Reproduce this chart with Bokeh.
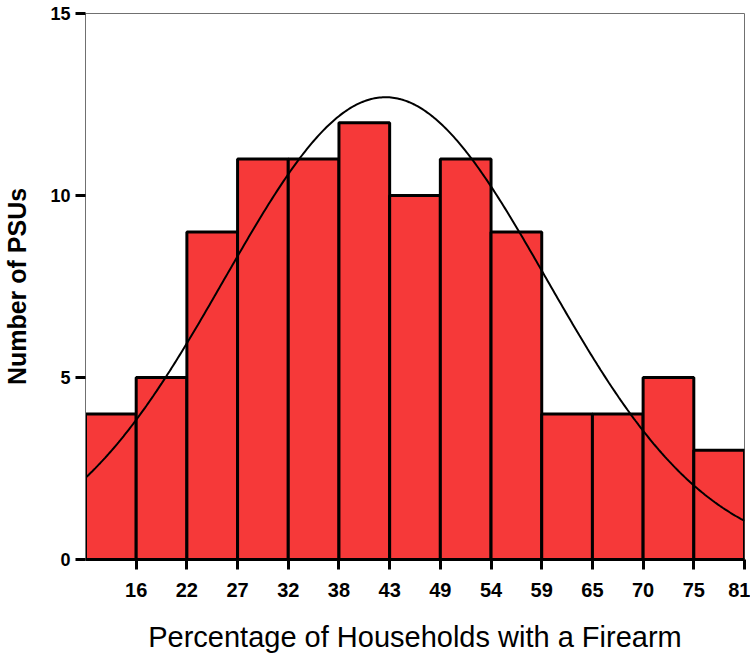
import numpy as np
from bokeh.plotting import figure
from bokeh.models import FixedTicker, Range1d
from bokeh.embed import file_html
from bokeh.resources import INLINE

# ---- data ----
bin_edges = [10.86, 16.24, 21.62, 27.00, 32.38, 37.76, 43.14, 48.52,
             53.90, 59.28, 64.66, 70.04, 75.42, 80.80]
counts = [4, 5, 9, 11, 11, 12, 10, 11, 9, 4, 4, 5, 3]
x_tick_labels = ["16", "22", "27", "32", "38", "43", "49", "54",
                 "59", "65", "70", "75", "81"]
y_ticks = [0, 5, 10, 15]
# normal curve overlay parameters
curve_mean = 42.7
curve_sd = 17.1
curve_peak = 12.7

x_title = "Percentage of Households with a Firearm"
y_title = "Number of PSUs"

p = figure(width=750, height=662, output_backend="svg", toolbar_location=None,
           x_range=Range1d(bin_edges[0], bin_edges[-1]),
           y_range=Range1d(0, 15))
p.min_border_left = 85
p.min_border_top = 13
p.min_border_right = 6
p.min_border_bottom = 103
p.background_fill_color = "white"
p.border_fill_color = "white"
p.outline_line_color = "#707070"
p.outline_line_width = 1
p.grid.visible = False

p.quad(left=bin_edges[:-1], right=bin_edges[1:], bottom=0, top=counts,
       fill_color="#F63939", line_color="black", line_width=3)

xs = np.linspace(bin_edges[0], bin_edges[-1], 400)
ys = curve_peak * np.exp(-0.5 * ((xs - curve_mean) / curve_sd) ** 2)
p.line(xs, ys, line_color="black", line_width=2)

# x axis
p.xaxis.ticker = FixedTicker(ticks=bin_edges[1:])
p.xaxis.major_label_overrides = {e: l for e, l in zip(bin_edges[1:], x_tick_labels)}
p.xaxis.axis_label = x_title
p.xaxis.axis_label_text_font = "Liberation Sans"
p.xaxis.axis_label_text_font_style = "normal"
p.xaxis.axis_label_text_font_size = "29px"
p.xaxis.axis_label_text_color = "black"
p.xaxis.axis_label_standoff = 21
p.xaxis.major_label_text_font = "Liberation Sans"
p.xaxis.major_label_text_font_style = "bold"
p.xaxis.major_label_text_font_size = "20px"
p.xaxis.major_label_text_color = "black"
p.xaxis.major_label_standoff = 13
p.xaxis.axis_line_color = "black"
p.xaxis.axis_line_width = 3
p.xaxis.major_tick_line_color = "black"
p.xaxis.major_tick_line_width = 3
p.xaxis.major_tick_out = 10
p.xaxis.major_tick_in = 0
p.xaxis.minor_tick_line_color = None

# y axis
p.yaxis.ticker = FixedTicker(ticks=y_ticks)
p.yaxis.axis_label = y_title
p.yaxis.axis_label_text_font = "Liberation Sans"
p.yaxis.axis_label_text_font_style = "bold"
p.yaxis.axis_label_text_font_size = "25px"
p.yaxis.axis_label_text_color = "black"
p.yaxis.axis_label_standoff = 16
p.yaxis.major_label_text_font = "Liberation Sans"
p.yaxis.major_label_text_font_style = "bold"
p.yaxis.major_label_text_font_size = "18px"
p.yaxis.major_label_text_color = "black"
p.yaxis.major_label_standoff = 5
p.yaxis.axis_line_color = "#707070"
p.yaxis.axis_line_width = 1
p.yaxis.major_tick_line_color = "black"
p.yaxis.major_tick_line_width = 3
p.yaxis.major_tick_out = 10
p.yaxis.major_tick_in = 0
p.yaxis.minor_tick_line_color = None

open("out.html", "w").write(file_html(p, INLINE))
